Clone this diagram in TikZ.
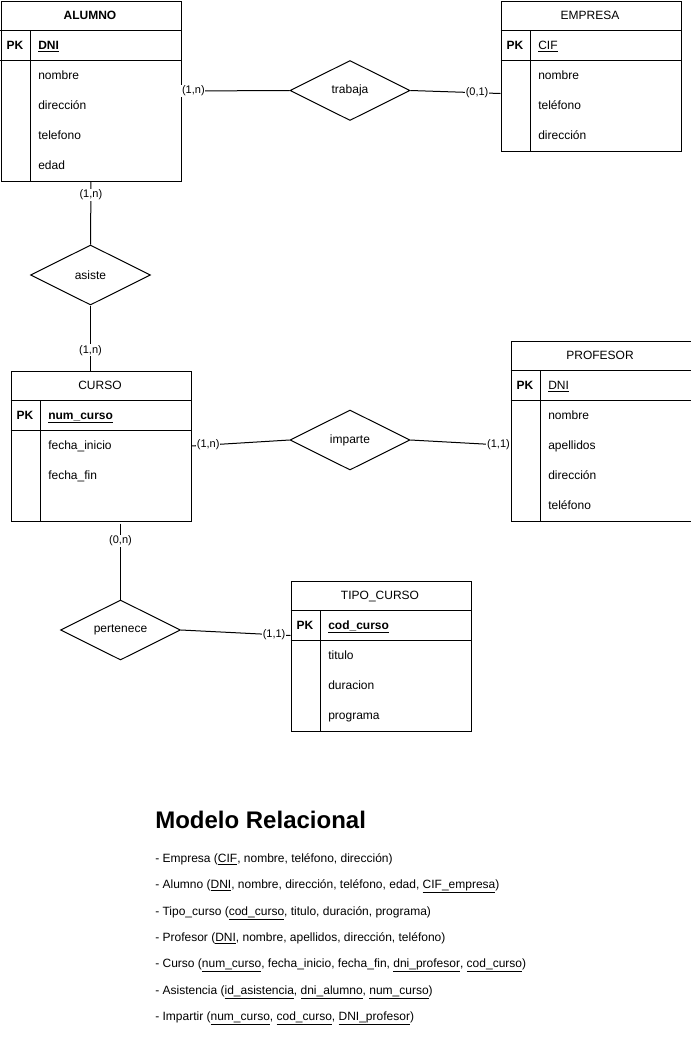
\documentclass[tikz,border=0pt]{standalone}
\usepackage{fontspec}
\setmainfont{Liberation Sans}
\usetikzlibrary{shapes.geometric,calc}
\begin{document}
\begin{tikzpicture}[x=0.75pt,y=-0.75pt,
  ebox/.style={draw, line width=0.75pt, minimum width=135pt, inner sep=0, anchor=north west},
  sep/.style={line width=0.75pt},
  hdr/.style={anchor=base, inner sep=0, font=\fontsize{9}{11}\selectfont},
  att/.style={anchor=base west, inner sep=0, font=\fontsize{9}{11}\selectfont},
  pk/.style={anchor=base, inner sep=0, font=\fontsize{9}{11}\selectfont\bfseries},
  rel/.style={draw, diamond, aspect=2, inner sep=0, minimum width=90pt, minimum height=45pt, line width=0.75pt, font=\fontsize{9}{11}\selectfont},
  conn/.style={line width=0.75pt},
  card/.style={fill=white, inner sep=0.6pt, font=\fontsize{8.25}{10}\selectfont},
  mtxt/.style={anchor=base west, inner sep=0, font=\fontsize{9}{11}\selectfont},
  ttl/.style={anchor=base west, inner sep=0, font=\fontsize{18}{22}\selectfont\bfseries},
]
\useasboundingbox (0,0) rectangle (691,1051);

% ---------- ALUMNO ----------
\node[ebox, minimum height=135pt] (alumno) at (0.5,0.5) {};
\draw[sep] (0.5,30.5) -- (180.5,30.5) (0.5,60.5) -- (180.5,60.5) (30.5,30.5) -- (30.5,180.5);
\node[hdr, font=\fontsize{9}{11}\selectfont\bfseries] (alh) at (90,19) {ALUMNO};
\node[pk] (alpk) at (15,49) {PK};
\node[att, font=\fontsize{9}{11}\selectfont\bfseries] (alk) at (38,49) {\underline{DNI}};
\node[att] (al1) at (38,79) {nombre};
\node[att] (al2) at (38,109) {dirección};
\node[att] (al3) at (38,139) {telefono};
\node[att] (al4) at (38,169) {edad};

% ---------- EMPRESA ----------
\node[ebox, minimum height=112.5pt] (empresa) at (500.5,0.5) {};
\draw[sep] (500.5,30.5) -- (680.5,30.5) (500.5,60.5) -- (680.5,60.5) (530.5,30.5) -- (530.5,150.5);
\node[hdr] (emh) at (590,19) {EMPRESA};
\node[pk] (empk) at (515,49) {PK};
\node[att] (emk) at (538,49) {\underline{CIF}};
\node[att] (em1) at (538,79) {nombre};
\node[att] (em2) at (538,109) {teléfono};
\node[att] (em3) at (538,139) {dirección};

% ---------- CURSO ----------
\node[ebox, minimum height=112.5pt] (curso) at (10.5,370.5) {};
\draw[sep] (10.5,400.5) -- (190.5,400.5) (10.5,430.5) -- (190.5,430.5) (40.5,400.5) -- (40.5,520.5);
\node[hdr] (cuh) at (100,389) {CURSO};
\node[pk] (cupk) at (25,419) {PK};
\node[att, font=\fontsize{9}{11}\selectfont\bfseries] (cuk) at (48,419) {\underline{num\_curso}};
\node[att] (cu1) at (48,449) {fecha\_inicio};
\node[att] (cu2) at (48,479) {fecha\_fin};

% ---------- PROFESOR ----------
\node[ebox, minimum height=135pt] (profesor) at (510.5,340.5) {};
\draw[sep] (510.5,370.5) -- (690.5,370.5) (510.5,400.5) -- (690.5,400.5) (540.5,370.5) -- (540.5,520.5);
\node[hdr] (prh) at (600,359) {PROFESOR};
\node[pk] (prpk) at (525,389) {PK};
\node[att] (prk) at (548,389) {\underline{DNI}};
\node[att] (pr1) at (548,419) {nombre};
\node[att] (pr2) at (548,449) {apellidos};
\node[att] (pr3) at (548,479) {dirección};
\node[att] (pr4) at (548,509) {teléfono};

% ---------- TIPO_CURSO ----------
\node[ebox, minimum height=112.5pt] (tipo) at (290.5,580.5) {};
\draw[sep] (290.5,610.5) -- (470.5,610.5) (290.5,640.5) -- (470.5,640.5) (320.5,610.5) -- (320.5,730.5);
\node[hdr] (tih) at (380,599) {TIPO\_CURSO};
\node[pk] (tipk) at (305,629) {PK};
\node[att, font=\fontsize{9}{11}\selectfont\bfseries] (tik) at (328,629) {\underline{cod\_curso}};
\node[att] (ti1) at (328,659) {titulo};
\node[att] (ti2) at (328,689) {duracion};
\node[att] (ti3) at (328,719) {programa};

% ---------- relationships ----------
\node[rel] (trabaja) at (350,90.5) {trabaja};
\node[rel] (asiste) at (90.5,275) {asiste};
\node[rel] (imparte) at (350,440) {imparte};
\node[rel] (pertenece) at (120.5,630) {pertenece};

\coordinate (empin) at ($(empresa.north west)+(0,93)$);
\coordinate (profin) at ($(profesor.north west)+(0,105)$);
\coordinate (tipoin) at ($(tipo.north west)+(0,55)$);
\coordinate (cursout) at ($(curso.south west)+(110,2)$);

\draw[conn] (alumno.east) -- node[card, pos=0.11] (c1) {(1,n)} (trabaja.west);
\draw[conn] (trabaja.east) -- node[card, pos=0.74] (c2) {(0,1)} (empin);
\draw[conn] (alumno.south) -- node[card, pos=0.215] (c3) {(1,n)} (asiste.north);
\draw[conn] (asiste.south) -- node[card, pos=0.69] (c4) {(1,n)} (asiste.south |- curso.north);
\draw[conn] (curso.east) -- node[card, pos=0.17] (c5) {(1,n)} (imparte.west);
\draw[conn] (imparte.east) -- node[card, pos=0.88] (c6) {(1,1)} (profin);
\draw[conn] (cursout) -- node[card, pos=0.23] (c7) {(0,n)} (pertenece.north);
\draw[conn] (pertenece.east) -- node[card, pos=0.85] (c8) {(1,1)} (tipoin);

% ---------- Modelo Relacional ----------
\node[ttl] (title) at (155,828) {Modelo Relacional};
\node[mtxt] (m1) at (155,862) {- Empresa (\underline{CIF}, nombre, teléfono, dirección)};
\node[mtxt] (m2) at (155,888) {- Alumno (\underline{DNI}, nombre, dirección, teléfono, edad, \underline{CIF\_empresa})};
\node[mtxt] (m3) at (155,915) {- Tipo\_curso (\underline{cod\_curso}, titulo, duración, programa)};
\node[mtxt] (m4) at (155,941) {- Profesor (\underline{DNI}, nombre, apellidos, dirección, teléfono)};
\node[mtxt] (m5) at (155,967) {- Curso (\underline{num\_curso}, fecha\_inicio, fecha\_fin, \underline{dni\_profesor}, \underline{cod\_curso})};
\node[mtxt] (m6) at (155,994) {- Asistencia (\underline{id\_asistencia}, \underline{dni\_alumno}, \underline{num\_curso})};
\node[mtxt] (m7) at (155,1020) {- Impartir (\underline{num\_curso}, \underline{cod\_curso}, \underline{DNI\_profesor})};
\end{tikzpicture}
\end{document}
